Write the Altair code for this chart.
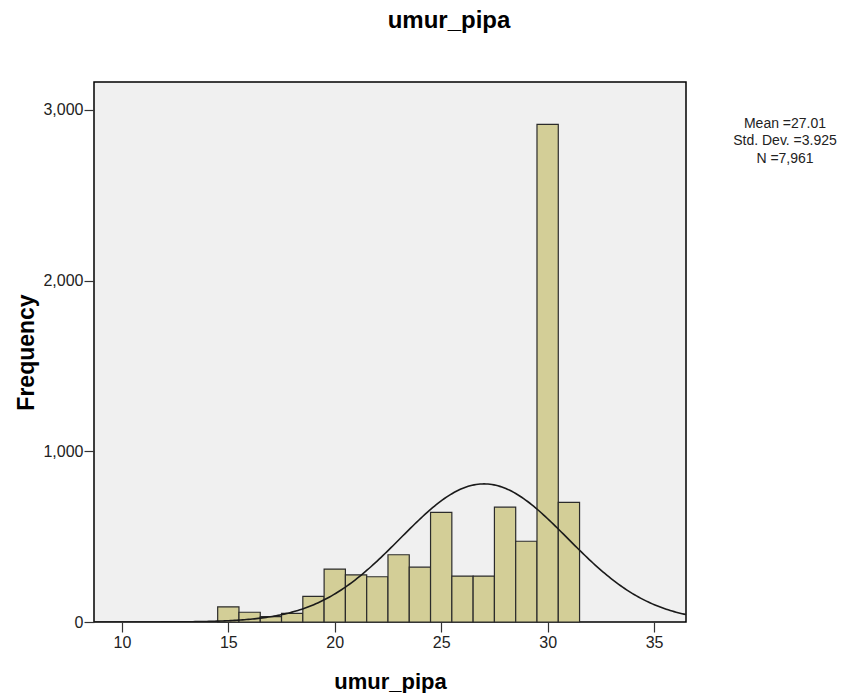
import altair as alt
import pandas as pd
import numpy as np

# Histogram bins (width 1) and counts
bin_starts = [14.5, 15.5, 16.5, 17.5, 18.5, 19.5, 20.5, 21.5, 22.5, 23.5,
              24.5, 25.5, 26.5, 27.5, 28.5, 29.5, 30.5]
counts = [89, 57, 31, 51, 150, 310, 276, 265, 394, 321,
          642, 269, 269, 673, 473, 2916, 701]

mean_val = 27.01
sd_val = 3.925
n_val = 7961
bin_width = 1.0

x_ticks = [10, 15, 20, 25, 30, 35]
y_ticks = [0, 1000, 2000, 3000]
x_domain = [8.69, 36.5]
y_domain = [0, 3164]
stats_lines = ["Mean =27.01", "Std. Dev. =3.925", "N =7,961"]

bars = pd.DataFrame({
    "start": bin_starts,
    "end": [s + bin_width for s in bin_starts],
    "count": counts,
})

curve_x = np.linspace(x_domain[0], x_domain[1], 300)
curve = pd.DataFrame({"x": curve_x})

FONT = "Liberation Sans"

xscale = alt.Scale(domain=x_domain, nice=False, zero=False)
yscale = alt.Scale(domain=y_domain, nice=False)

x_axis = alt.Axis(values=x_ticks, format="d", title="umur_pipa", grid=False,
                  tickSize=10, tickColor="#333", tickWidth=1.2, labelColor="#222",
                  labelFontSize=16, labelFont=FONT, labelPadding=2,
                  titleFont=FONT, titleFontSize=22, titleFontWeight="bold",
                  titleColor="#000", titleBaseline="alphabetic", titleY=66,
                  domain=False)
y_axis = alt.Axis(values=y_ticks, format=",.0f", title="Frequency", grid=False,
                  tickSize=10, tickColor="#333", tickWidth=1.2, labelColor="#222",
                  labelFontSize=16, labelFont=FONT, labelPadding=1,
                  titleFont=FONT, titleFontSize=23, titleFontWeight="bold",
                  titleColor="#000", titleBaseline="alphabetic", titleX=-61,
                  titleY=270, titleAngle=270, domain=False)

bar_layer = alt.Chart(bars).mark_rect(
    fill="#d3ce97", stroke="#2b2b2b", strokeWidth=1.2
).encode(
    x=alt.X("start:Q", scale=xscale, axis=x_axis),
    x2="end:Q",
    y=alt.Y("count:Q", scale=yscale, axis=y_axis),
    y2=alt.datum(0),
)

curve_layer = alt.Chart(curve).transform_calculate(
    y=f"{n_val}*{bin_width}/({sd_val}*sqrt(2*PI))*exp(-0.5*pow((datum.x-{mean_val})/{sd_val},2))"
).mark_line(color="#1a1a1a", strokeWidth=1.6, clip=True).encode(
    x=alt.X("x:Q", scale=xscale, axis=x_axis),
    y=alt.Y("y:Q", scale=yscale, axis=y_axis),
)

stats_text = alt.Chart(pd.DataFrame({"t": [0]})).mark_text(
    font=FONT, fontSize=14, color="#222", align="center", baseline="middle",
    lineHeight=17.5, clip=False
).encode(
    x=alt.value(691),
    y=alt.value(41.5),
    text=alt.value(stats_lines),
)

chart = alt.layer(bar_layer, curve_layer, stats_text).properties(
    width=592, height=540,
    background="white",
    title=alt.TitleParams("umur_pipa", font=FONT, fontSize=24, fontWeight="bold",
                          anchor="middle", dx=59, offset=49, color="#000"),
    autosize=alt.AutoSizeParams(type="none"),
    padding={"left": 86, "top": 74, "right": 163, "bottom": 71},
).configure_view(
    fill="#f0f0f0", stroke="#000", strokeWidth=1.5
)

chart.save("out.html", embed_options={"renderer": "svg", "actions": False})
